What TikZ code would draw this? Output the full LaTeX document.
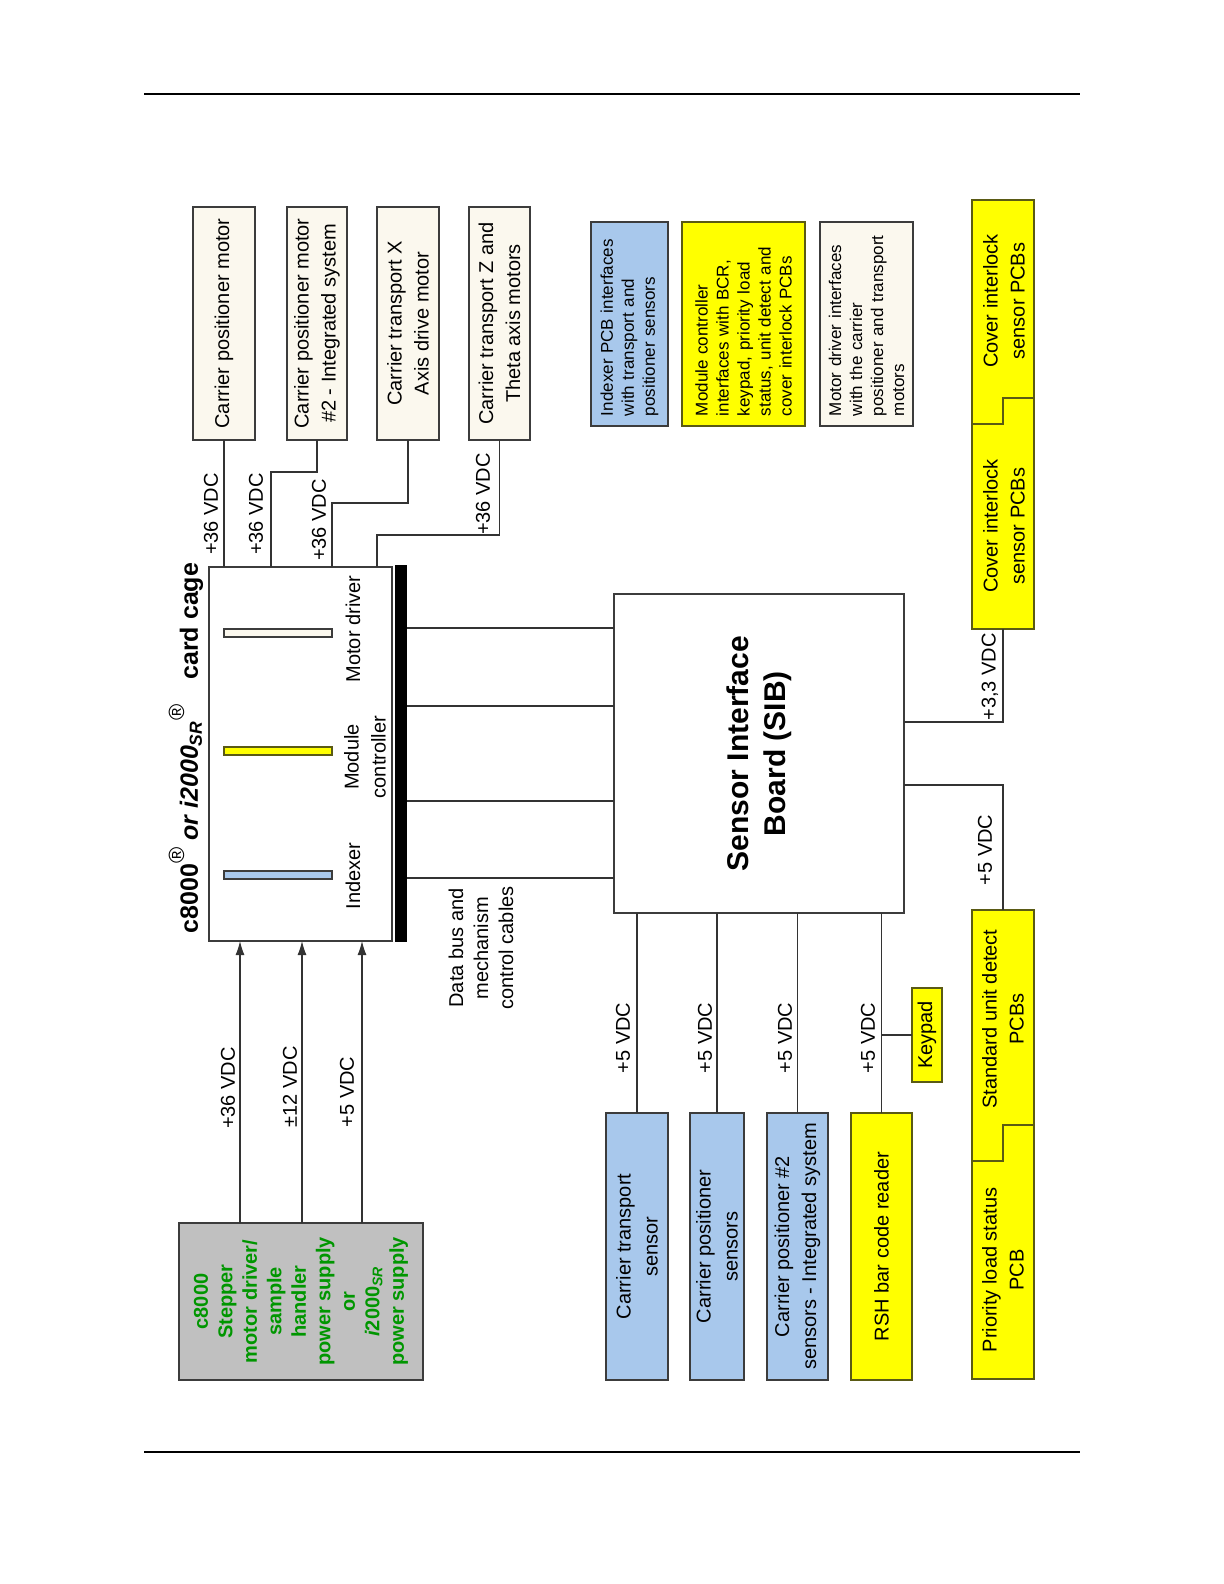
\documentclass[tikz,border=0pt]{standalone}
\usepackage{fontspec}
\setmainfont{Liberation Sans}
\usetikzlibrary{arrows.meta}
\definecolor{creamfill}{RGB}{251,248,238}
\definecolor{pcbblue}{RGB}{168,200,236}
\definecolor{pcbyellow}{RGB}{255,255,0}
\definecolor{psugrey}{RGB}{192,192,192}
\definecolor{psugreen}{RGB}{0,150,0}
\definecolor{edgegrey}{RGB}{60,60,60}
\definecolor{edgeolive}{RGB}{90,90,20}
\newcommand{\txtnorm}{\fontsize{10}{13.5}\selectfont}
\newcommand{\txtsmall}{\fontsize{8.5}{10.5}\selectfont}
\newcommand{\txtbus}{\fontsize{10}{12.5}\selectfont}
\newcommand{\txtpsu}{\fontsize{10}{12.25}\selectfont\bfseries}
\newcommand{\txtsib}{\fontsize{15}{18.5}\selectfont\bfseries}
\newcommand{\txttitle}{\fontsize{12.5}{15}\selectfont\bfseries}
\newcommand{\regmark}{\raisebox{0.55em}{\fontsize{11}{11}\selectfont\mdseries ®}}
\tikzset{
  vbox/.style={draw=edgegrey, line width=0.6pt, rotate=90, inner sep=2pt, outer sep=0pt, align=center, font=\txtnorm},
  motorbox/.style={vbox, fill=creamfill},
  sensorbox/.style={vbox, fill=pcbblue},
  yellowbox/.style={vbox, fill=pcbyellow, draw=edgeolive},
  notebox/.style={vbox, font=\txtsmall, align=left, inner xsep=5pt, text width=92pt, minimum width=102pt},
  vlabel/.style={rotate=90, inner sep=1pt, font=\txtnorm},
  wire/.style={draw=black!80, line width=0.6pt},
  feed/.style={wire, -{Latex[length=7pt,width=4.5pt]}},
  cardslot/.style={draw=edgegrey, line width=0.6pt, minimum width=54pt, minimum height=4pt, inner sep=0pt, outer sep=0pt},
  stack/.style={draw=edgeolive, fill=pcbyellow, line width=0.6pt, minimum width=31pt, inner sep=0pt, outer sep=0pt},
}
\begin{document}
\begin{tikzpicture}[x=0.5pt,y=-0.5pt]
\useasboundingbox (0,0) rectangle (1224,1584);
% page rules
\draw[line width=1.2pt] (144,94) -- (1080,94);
\draw[line width=1.2pt] (144,1452) -- (1080,1452);

% motors
\node[motorbox, minimum width=116.5pt, minimum height=31pt] (posmotor) at (224,323.5) {Carrier positioner motor};
\node[motorbox, minimum width=116.5pt, minimum height=30pt] (posmotortwo) at (317,323.5) {Carrier positioner motor\\\#2 - Integrated system};
\node[motorbox, minimum width=116.5pt, minimum height=31pt] (xmotor) at (408,323.5) {Carrier transport X\\Axis drive motor};
\node[motorbox, minimum width=116.5pt, minimum height=30.5pt] (zmotor) at (499.5,323.5) {Carrier transport Z and\\Theta axis motors};

% notes
\node[notebox, fill=pcbblue, minimum height=38.5pt] (ixnote) at (629.5,324) {Indexer PCB interfaces\\with transport and\\positioner sensors};
\node[notebox, fill=pcbyellow, draw=edgeolive, minimum height=61.5pt] (mcnote) at (743.5,324) {Module controller\\interfaces with BCR,\\keypad, priority load\\status, unit detect and\\cover interlock PCBs};
\node[notebox, fill=creamfill, minimum height=46.5pt] (mdnote) at (866.5,324) {Motor driver interfaces\\with the carrier\\positioner and transport\\motors};

% card cage
\node[draw=edgegrey, line width=0.6pt, fill=white, minimum width=91.5pt, minimum height=187pt, inner sep=0pt, outer sep=0pt] (cage) at (300.5,754) {};
\node[fill=black, minimum width=6pt, minimum height=188.5pt, inner sep=0pt, outer sep=0pt] (bus) at (401,753.5) {};
\node[cardslot, fill=creamfill] (mdslot) at (278,633) {};
\node[cardslot, fill=pcbyellow, draw=edgeolive] (mcslot) at (278,751) {};
\node[cardslot, fill=pcbblue] (ixslot) at (278,875) {};
\node[vlabel] (mdlbl) at (353,629) {Motor driver};
\node[vlabel, align=center] (mclbl) at (365,757) {Module\\controller};
\node[vlabel] (ixlbl) at (353,876) {Indexer};
\node[vlabel, font=\txttitle] (cagetitle) at (186,748) {c8000\regmark\ \textit{or i2000\textsubscript{SR}}\regmark\quad card cage};

% motor feeds
\draw[wire] (posmotor.west) -- (posmotor.west |- cage.north);
\draw[wire] (posmotortwo.west) -- ++(0,32) -| (cage.north -| 271,0);
\draw[wire] (xmotor.west) -- ++(0,63) -| (cage.north -| 332,0);
\draw[wire] (zmotor.west) -- ++(0,95) -| (cage.north -| 377,0);
\node[vlabel] (motv1) at (211,514) {+36 VDC};
\node[vlabel] (motv2) at (256,514) {+36 VDC};
\node[vlabel] (motv3) at (319,520) {+36 VDC};
\node[vlabel] (motv4) at (483,494) {+36 VDC};

% power supply
\node[vbox, fill=psugrey, font=\txtpsu, text=psugreen, minimum width=78.5pt, minimum height=122pt] (psu) at (301,1301.5) {c8000\\Stepper\\motor driver/\\sample\\handler\\power supply\\or\\\textit{i}2000\textsubscript{\textit{SR}}\\power supply};
\draw[feed] (psu.east -| 240,0) -- (cage.south -| 240,0);
\draw[feed] (psu.east -| 302,0) -- (cage.south -| 302,0);
\draw[feed] (psu.east -| 362,0) -- (cage.south -| 362,0);
\node[vlabel] (psuv1) at (228,1088) {+36 VDC};
\node[vlabel] (psuv2) at (290,1087) {±12 VDC};
\node[vlabel] (psuv3) at (347,1092) {+5 VDC};
\node[vlabel, align=center, font=\txtbus] (buslbl) at (481,948) {Data bus and\\mechanism\\control cables};

% sensor interface board
\node[vbox, fill=white, font=\txtsib, minimum width=159.5pt, minimum height=145pt] (sib) at (759,753.5) {Sensor Interface\\Board (SIB)};
\foreach \cy in {628,706,801,878}{
  \draw[wire] (bus.east |- 0,\cy) -- (sib.north |- 0,\cy);
}

% sensors
\node[sensorbox, minimum width=133.5pt, minimum height=31pt] (transsens) at (637,1246.5) {Carrier transport\\sensor};
\node[sensorbox, minimum width=133.5pt, minimum height=27pt] (possens) at (717,1246.5) {Carrier positioner\\sensors};
\node[sensorbox, minimum width=133.5pt, minimum height=30.5pt] (possenstwo) at (797.5,1246.5) {Carrier positioner \#2\\sensors - Integrated system};
\node[yellowbox, minimum width=133.5pt, minimum height=30.5pt] (bcr) at (881.5,1246.5) {RSH bar code reader};
\node[yellowbox, minimum width=47pt, minimum height=15pt] (keypad) at (927,1035) {Keypad};
\foreach \s in {transsens,possens,possenstwo,bcr}{
  \draw[wire] (\s.east) -- (\s.east |- sib.west);
}
\draw[wire] (bcr.east |- keypad.north) -- (keypad.north);
\foreach \i/\xx in {1/623,2/705,3/785,4/868}{
  \node[vlabel] (sensv\i) at (\xx,1038) {+5 VDC};
}

% cover interlock and unit detect PCBs
\node[stack, minimum height=214.5pt] (coverstack) at (1003,414.5) {};
\draw[draw=edgeolive, line width=0.6pt] (coverstack.west |- 0,424) -- (1003,424) -- (1003,398) -- (coverstack.east |- 0,398);
\node[vlabel, align=center] (coverA) at (1004,301) {Cover interlock\\sensor PCBs};
\node[vlabel, align=center] (coverB) at (1004,526) {Cover interlock\\sensor PCBs};
\node[stack, minimum height=234.5pt] (unitstack) at (1003,1144.5) {};
\draw[draw=edgeolive, line width=0.6pt] (unitstack.west |- 0,1161) -- (1003,1161) -- (1003,1125) -- (unitstack.east |- 0,1125);
\node[vlabel, align=center] (unitlbl) at (1003,1019) {Standard unit detect\\PCBs};
\node[vlabel, align=center] (prioritylbl) at (1003,1270) {Priority load status\\PCB};
\draw[wire] (sib.south |- 0,722) -| (coverstack.south);
\draw[wire] (sib.south |- 0,785) -| (unitstack.north);
\node[vlabel] (coverv) at (990,677) {+3,3 VDC};
\node[vlabel] (unitv) at (985,850) {+5 VDC};
\end{tikzpicture}
\end{document}
